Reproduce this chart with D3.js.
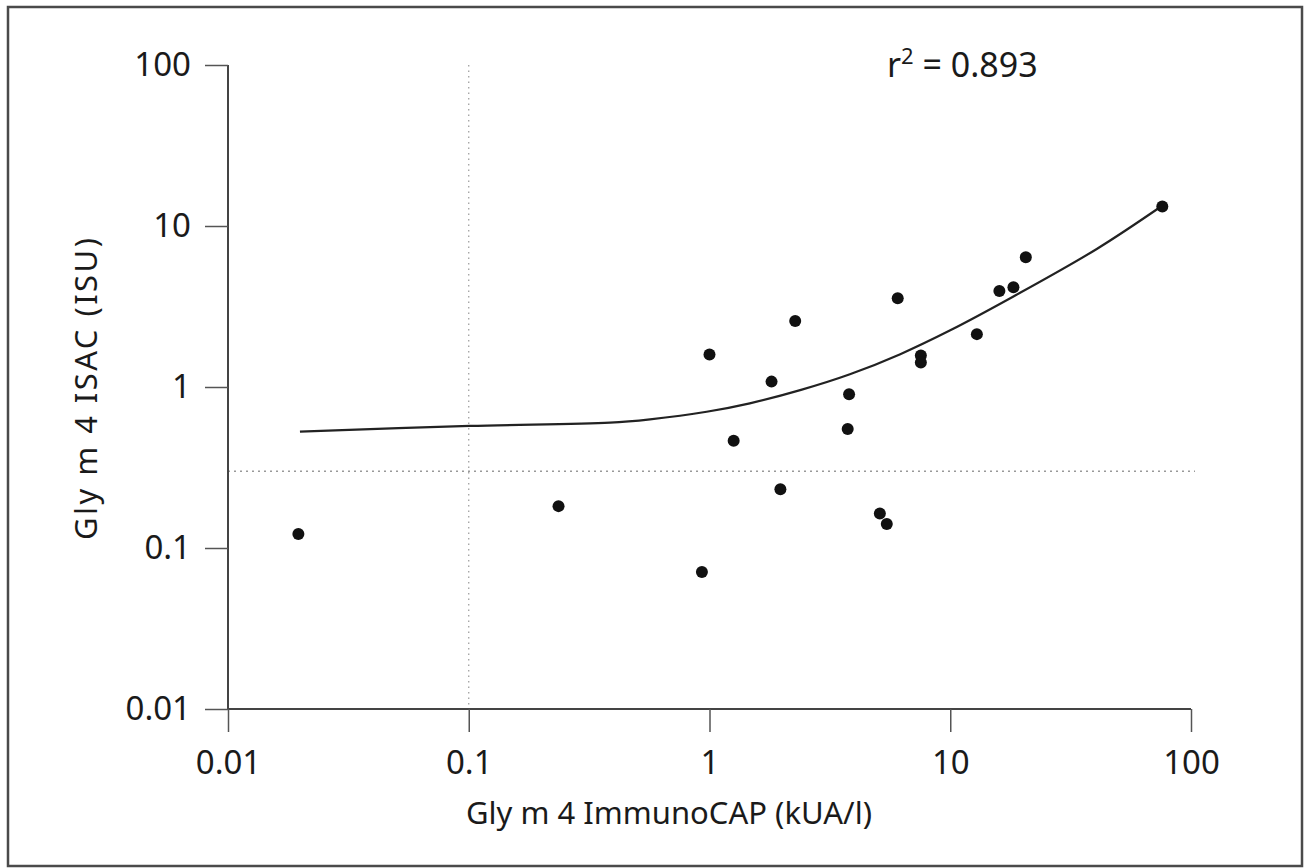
<!DOCTYPE html>
<html lang="en">
<head>
    <meta charset="UTF-8">
    <title>Gly m 4 ISAC vs ImmunoCAP</title>
    <style>
        body{
            margin:0;
            background:#fff;
        }
        text{
            font-family:"Noto Sans", "Open Sans", sans-serif;
            fill:#1a1a1a;
        }
    </style>
    <script src="https://cdn.jsdelivr.net/npm/d3@7"></script>
</head>
<body>
<div id ='container'>
</div>
</body>
<script>
    // measured values (kUA/l vs ISU)
    var capValues  = [0.0196, 0.236, 0.93, 1.0, 1.26, 1.81, 1.97, 2.27, 3.75, 3.8, 5.1, 5.45, 6.05, 7.55, 7.55, 12.9, 16.0, 18.3, 20.6, 76];
    var isacValues = [0.122, 0.182, 0.071, 1.59, 0.464, 1.08, 0.232, 2.57, 0.548, 0.90, 0.164, 0.141, 3.56, 1.57, 1.42, 2.13, 3.95, 4.16, 6.39, 13.2];
    // fitted curve
    var fitX = [0.0199, 0.101, 0.386, 0.566, 0.973, 1.47, 2.4, 3.83, 6.2, 10.0, 18.3, 40.6, 76.7];
    var fitY = [0.528, 0.573, 0.600, 0.630, 0.702, 0.792, 0.96, 1.2, 1.6, 2.25, 3.65, 7.2, 13.5];
    var tickValues = [0.01, 0.1, 1, 10, 100];
    var tickLabels = ['0.01', '0.1', '1', '10', '100'];
    var cutX = 0.1, cutY = 0.3;
    var rSquared = '0.893';

    var w = 1313, h = 868;
    var mLeft = 228, mRight = 1191, mTop = 65, mBottom = 709;

    var xScale = d3.scaleLog().domain([0.01, 100]).range([mLeft, mRight]),
        yScale = d3.scaleLog().domain([0.01, 100]).range([mBottom, mTop]);

    var svg = d3.select('#container').append('svg').attr('width', w).attr('height', h);

    // frame around the figure
    svg.append('rect')
        .attr('x', 8).attr('y', 7).attr('width', 1294).attr('height', 859)
        .attr('fill', 'none').attr('stroke', '#4a4a4a').attr('stroke-width', 2.5);

    // dotted cut-off lines
    svg.append('line')
        .attr('x1', xScale(cutX)).attr('x2', xScale(cutX))
        .attr('y1', mTop).attr('y2', mBottom)
        .attr('stroke', '#999').attr('stroke-width', 1.2).attr('stroke-dasharray', '1.5,4');
    svg.append('line')
        .attr('x1', mLeft).attr('x2', mRight + 4)
        .attr('y1', yScale(cutY)).attr('y2', yScale(cutY))
        .attr('stroke', '#999').attr('stroke-width', 1.6).attr('stroke-dasharray', '2,4');

    var fmt = function (d) { return tickLabels[tickValues.indexOf(d)]; };
    var xAxis = d3.axisBottom(xScale).tickValues(tickValues).tickFormat(fmt).tickSize(23).tickPadding(19),
        yAxis = d3.axisLeft(yScale).tickValues(tickValues).tickFormat(fmt).tickSize(23).tickPadding(14);

    var gx = svg.append('g').attr('transform', 'translate(0,' + mBottom + ')').call(xAxis);
    var gy = svg.append('g').attr('transform', 'translate(' + mLeft + ',0)').call(yAxis);
    gx.select('.domain').attr('d', 'M' + mLeft + ',0H' + mRight);
    gy.select('.domain').attr('d', 'M0,' + mTop + 'V' + mBottom);
    [gx, gy].forEach(function (g) {
        g.select('.domain').attr('stroke', '#444').attr('stroke-width', 2);
        g.selectAll('.tick line').attr('stroke', '#555').attr('stroke-width', 1.5);
        g.selectAll('.tick text').attr('font-size', 33).attr('font-family', '"Noto Sans", sans-serif').attr('fill', '#1a1a1a');
    });

    // fitted curve
    var fitLine = d3.line()
        .x(function (d) { return xScale(d[0]); })
        .y(function (d) { return yScale(d[1]); })
        .curve(d3.curveCatmullRom.alpha(0.5));
    svg.append('path')
        .datum(fitX.map(function (x, i) { return [x, fitY[i]]; }))
        .attr('d', fitLine)
        .attr('fill', 'none').attr('stroke', '#222').attr('stroke-width', 2.2);

    // data points
    svg.selectAll('circle').data(capValues).enter().append('circle')
        .attr('cx', function (d) { return xScale(d); })
        .attr('cy', function (d, i) { return yScale(isacValues[i]); })
        .attr('r', 6)
        .attr('fill', '#111');

    // r squared
    var rt = svg.append('text').attr('x', 887).attr('y', 77).attr('font-size', 34);
    rt.append('tspan').text('r');
    rt.append('tspan').text('2').attr('font-size', 22).attr('dy', -13);
    rt.append('tspan').text(' = ' + rSquared).attr('dy', 13);

    // axis titles
    svg.append('text')
        .attr('x', 669).attr('y', 824)
        .attr('text-anchor', 'middle').attr('font-size', 31)
        .text('Gly m 4 ImmunoCAP (kUA/l)');
    svg.append('text')
        .attr('transform', 'translate(97,389) rotate(-90)')
        .attr('text-anchor', 'middle').attr('font-size', 31)
        .attr('textLength', 302).attr('lengthAdjust', 'spacing')
        .text('Gly m 4 ISAC (ISU)');
</script>
</html>
